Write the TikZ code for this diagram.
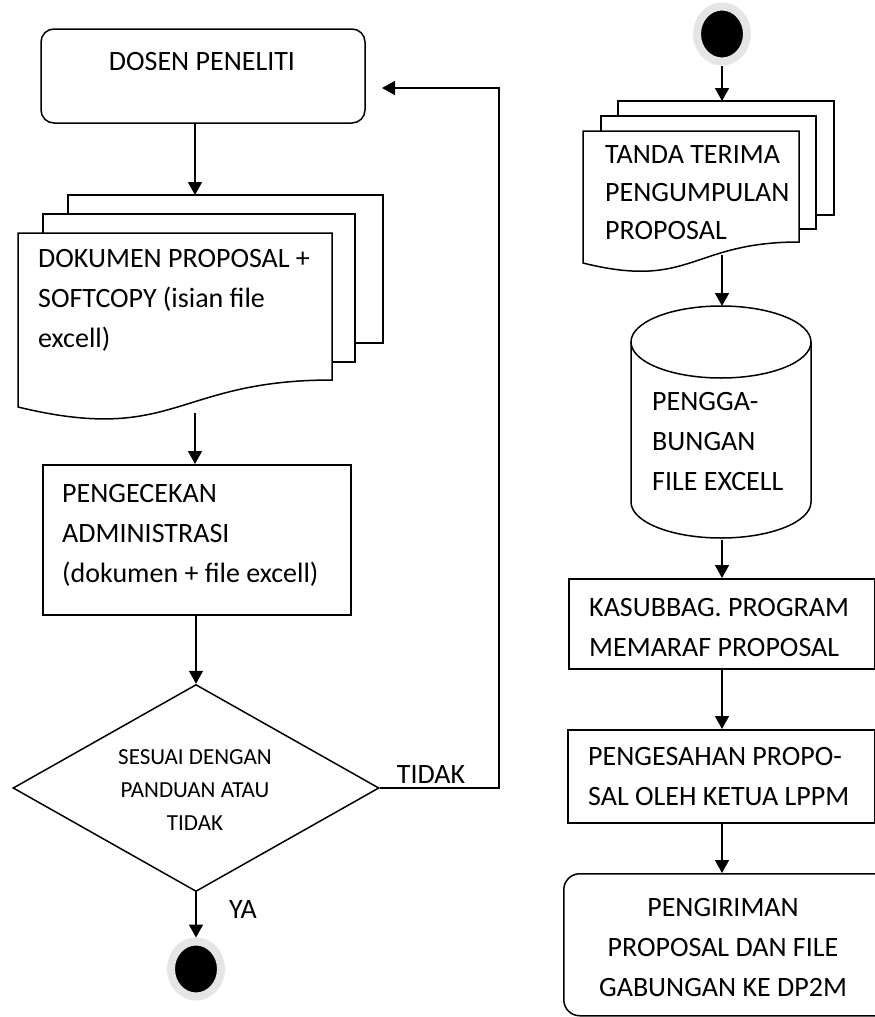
\documentclass[tikz,border=0pt]{standalone}
\usepackage{fontspec}
\setmainfont{Carlito}
\usetikzlibrary{shapes.geometric,arrows.meta}

\begin{document}
\begin{tikzpicture}
[x=1pt, y=-1pt, every node/.style={inner sep=0pt},
 flowtext/.style={font=\fontsize{28pt}{40pt}\selectfont, align=left},
 smalltext/.style={font=\fontsize{23pt}{33pt}\selectfont, align=center},
 procbox/.style={rectangle, draw=black, line width=1.5pt, anchor=north west},
 roundbox/.style={rectangle, rounded corners=13pt, draw=black, line width=1.5pt},
 endpoint/.style={ellipse, fill=black, draw=black!10, line width=8pt, minimum width=50pt, minimum height=55pt},
 sheet/.style={draw=black, fill=white, line width=1.5pt},
 flow/.style={line width=1.5pt, -{Triangle[length=13pt, width=14pt]}}]
\useasboundingbox (0,0) rectangle (875,1017);
% left column
\node (dosen) [roundbox, minimum width=324pt, minimum height=94pt] at (203,76) {};
\node (dosentext) [flowtext] at (202,62) {DOSEN PENELITI};
\draw [sheet] (68,195) rectangle (383,343);
\draw [sheet] (43,214) rectangle (355,362);
\draw [sheet] (18,233) -- (332,233) -- (332,380) .. controls (175,380) and (175,445) .. (18,407) -- cycle;
\node (doktext) [flowtext, anchor=west] at (38,300) {DOKUMEN PROPOSAL +\\SOFTCOPY (isian file\\excell)};
\coordinate (doktop) at (195,195);
\coordinate (dokbot) at (195,413);
\node (cek) [procbox, minimum width=308pt, minimum height=150pt] at (42,464) {};
\node (cektext) [flowtext, anchor=west] at (62,535) {PENGECEKAN\\ADMINISTRASI\\(dokumen + file excell)};
\node (cocok) [diamond, draw=black, line width=1.5pt, minimum width=366pt, minimum height=207pt] at (196,788) {};
\node (cocoktext) [smalltext] at (195,790) {SESUAI DENGAN\\PANDUAN ATAU\\TIDAK};
\node (tidak) [flowtext] at (431,775) {TIDAK};
\node (ya) [flowtext] at (243,910) {YA};
\node (selesai) [endpoint] at (196,969) {};
\coordinate (sudut) at (499,88);
\coordinate (balik) at (382,88);
\draw [flow] (dosen.south -| doktop) -- (doktop);
\draw [flow] (dokbot) -- (dokbot |- cek.north);
\draw [flow] (cek.south -| cocok.north) -- (cocok.north);
\draw [flow] (cocok.south) -- (selesai.north);
\draw [flow] (cocok.east) -| (sudut) -- (balik);
% right column
\node (mulai) [endpoint] at (722,34) {};
\draw [sheet] (618,101) rectangle (834,215);
\draw [sheet] (601,116) rectangle (816,229);
\draw [sheet] (583,131) -- (799,131) -- (799,242) .. controls (691,242) and (691,290) .. (583,263) -- cycle;
\node (terimatext) [flowtext, font=\fontsize{28pt}{38pt}\selectfont, anchor=west] at (605,193) {TANDA TERIMA\\PENGUMPULAN\\PROPOSAL};
\coordinate (terimatop) at (722,101);
\coordinate (terimabot) at (722,255);
\draw [sheet] (631,342) -- (631,502) arc[start angle=180, end angle=0, x radius=90, y radius=36] -- (811,342);
\draw [sheet] (721,342) ellipse [x radius=90, y radius=36];
\node (gabungtext) [flowtext, anchor=west] at (652,442) {PENGGA-\\BUNGAN\\FILE EXCELL};
\coordinate (gabungtop) at (722,306);
\coordinate (gabungbot) at (722,540);
\node (paraf) [procbox, minimum width=306pt, minimum height=90pt] at (568,578) {};
\node (paraftext) [flowtext, anchor=west] at (589,628) {KASUBBAG. PROGRAM\\MEMARAF PROPOSAL};
\node (sah) [procbox, minimum width=307pt, minimum height=93pt] at (567,729) {};
\node (sahtext) [flowtext, anchor=west] at (588,777) {PENGESAHAN PROPO-\\SAL OLEH KETUA LPPM};
\node (kirim) [roundbox, rounded corners=16pt, minimum width=340pt, minimum height=142pt, anchor=north west] at (563,873) {};
\node (kirimtext) [flowtext, align=center] at (723,948) {PENGIRIMAN\\PROPOSAL DAN FILE\\GABUNGAN KE DP2M};
\draw [flow] (mulai.south) -- (terimatop);
\draw [flow] (terimabot) -- (gabungtop);
\draw [flow] (gabungbot) -- (gabungbot |- paraf.north);
\draw [flow] (paraf.south -| gabungbot) -- (sah.north -| gabungbot);
\draw [flow] (sah.south -| gabungbot) -- (kirim.north -| gabungbot);
\end{tikzpicture}
\end{document}
